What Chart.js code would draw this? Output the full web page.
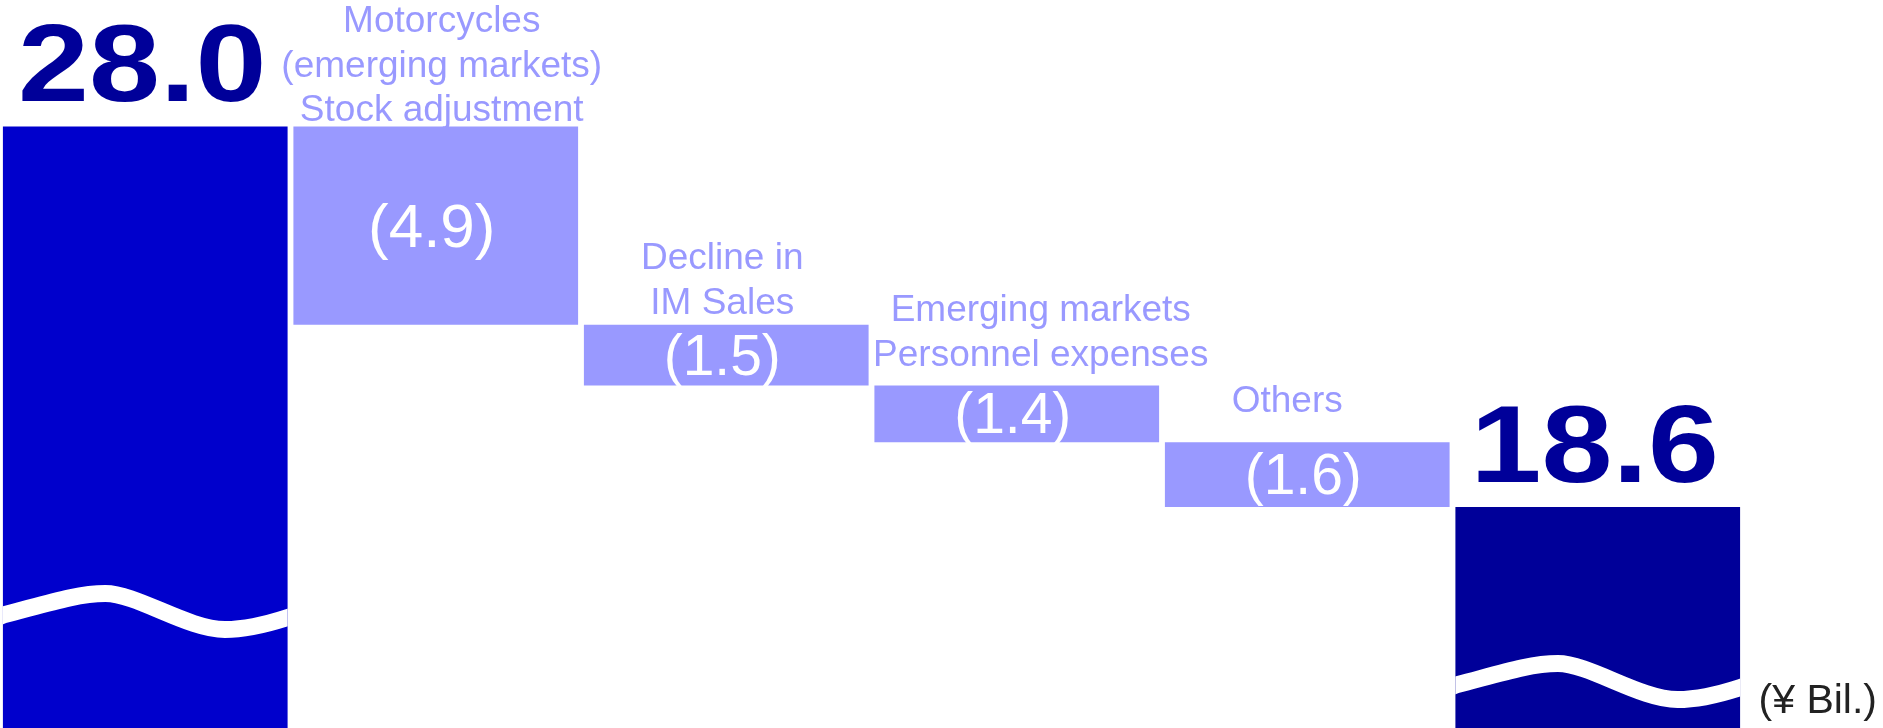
<!DOCTYPE html>
<html>
<head>
<meta charset="utf-8">
<script src="https://cdn.jsdelivr.net/npm/chart.js@4.4.1/dist/chart.umd.min.js"></script>
<style>
    html, body { margin: 0; padding: 0; background: #ffffff; overflow: hidden; }
    canvas { display: block; }
</style>
</head>
<body>
<canvas id="grafico" width="1883" height="728"></canvas>
<script>
// valores (¥ Bil.)
const openTotal = 28.0;
const closeTotal = 18.6;
const stepValues = [-4.9, -1.5, -1.4, -1.6];
const stepLabels = [
    ['Motorcycles', '(emerging markets)', 'Stock adjustment'],
    ['Decline in', 'IM Sales'],
    ['Emerging markets', 'Personnel expenses'],
    ['Others']
];
const categories = ['Start', 'Motorcycles', 'IM Sales', 'Personnel', 'Others', 'End'];
const unitLabel = '(\u00a5 Bil.)';

const barColors = ['#0000cc', '#9999ff', '#9999ff', '#9999ff', '#9999ff', '#000099'];
const FONT = '"Liberation Sans", Arial, sans-serif';

// monta as barras flutuantes do waterfall
function montarBarras() {
    const barras = [[0, openTotal]];
    let nivel = openTotal;
    stepValues.forEach(v => {
        const novo = Math.round((nivel + v) * 10) / 10;
        barras.push([Math.min(nivel, novo), Math.max(nivel, novo)]);
        nivel = novo;
    });
    barras.push([0, closeTotal]);
    return barras;
}

function desenharOnda(ctx, bar, yCentro, bottom) {
    const w = bar.width;
    const L = bar.x - w / 2;
    const R = bar.x + w / 2;
    ctx.save();
    ctx.beginPath();
    ctx.rect(L, bar.y, w, bottom - bar.y);
    ctx.clip();
    ctx.strokeStyle = '#ffffff';
    ctx.lineWidth = 17;
    ctx.beginPath();
    ctx.moveTo(L - 12, yCentro + 5);
    ctx.lineTo(L, yCentro);
    ctx.bezierCurveTo(L + 0.15 * w, yCentro - 11, L + 0.26 * w, yCentro - 21.5, L + 0.36 * w, yCentro - 21.5);
    ctx.bezierCurveTo(L + 0.47 * w, yCentro - 21.5, L + 0.65 * w, yCentro + 14.5, L + 0.78 * w, yCentro + 14.5);
    ctx.bezierCurveTo(L + 0.86 * w, yCentro + 14.5, L + 0.93 * w, yCentro + 9, R, yCentro + 2.5);
    ctx.lineTo(R + 12, yCentro - 1.5);
    ctx.stroke();
    ctx.restore();
}

const rotulosPlugin = {
    id: 'rotulos',
    afterDatasetsDraw(chart, args, opts) {
        const ctx = chart.ctx;
        const meta = chart.getDatasetMeta(0);
        const yScale = chart.scales.y;
        const area = chart.chartArea;
        const n = meta.data.length;

        // quebra de eixo (onda) nas barras de total
        Object.keys(opts.breaks).forEach(i => {
            desenharOnda(ctx, meta.data[i], yScale.getPixelForValue(opts.breaks[i]), area.bottom);
        });

        ctx.save();
        ctx.textAlign = 'center';
        ctx.textBaseline = 'alphabetic';

        // totais
        [[0, openTotal], [n - 1, closeTotal]].forEach(([i, v]) => {
            const bar = meta.data[i];
            ctx.save();
            ctx.translate(bar.x - 3, bar.y - 25);
            ctx.scale(1.16, 1);
            ctx.fillStyle = '#000099';
            ctx.font = 'bold 110px ' + FONT;
            ctx.fillText(v.toFixed(1), 0, 0);
            ctx.restore();
        });

        // rótulos das variações e valores
        stepValues.forEach((v, k) => {
            const bar = meta.data[k + 1];
            const topo = Math.min(bar.y, bar.base);
            const fundo = Math.max(bar.y, bar.base);
            const linhas = stepLabels[k];
            ctx.fillStyle = '#9999ff';
            ctx.font = '37px ' + FONT;
            const base = topo - opts.labelGaps[k];
            const lx = bar.x + opts.labelShifts[k];
            linhas.forEach((t, j) => {
                ctx.fillText(t, lx, base - (linhas.length - 1 - j) * 44.5);
            });

            const tam = (fundo - topo) > 100 ? 62 : 57;
            ctx.fillStyle = '#ffffff';
            ctx.font = tam + 'px ' + FONT;
            ctx.fillText('(' + Math.abs(v).toFixed(1) + ')', bar.x - 4, (topo + fundo) / 2 + tam * 0.716 / 2 - 1);
        });

        // unidade
        ctx.fillStyle = '#222222';
        ctx.font = '41px ' + FONT;
        ctx.textAlign = 'right';
        ctx.fillText(unitLabel, chart.width - 6, area.bottom - 15);
        ctx.restore();
    }
};

const ctx = document.getElementById('grafico').getContext('2d');
new Chart(ctx, {
    type: 'bar',
    data: {
        labels: categories,
        datasets: [{
            data: montarBarras(),
            backgroundColor: barColors,
            borderWidth: 0,
            barPercentage: 1,
            categoryPercentage: 0.98
        }]
    },
    options: {
        responsive: false,
        animation: false,
        layout: { padding: { left: 0, right: 140, top: 0, bottom: 0 } },
        scales: {
            x: { display: false },
            y: { display: false, min: 13.14, max: 31.125 }
        },
        plugins: {
            legend: { display: false },
            tooltip: { enabled: false },
            rotulos: {
                breaks: { 0: 15.93, 5: 14.2 },
                labelGaps: [5, 11, 20, 30],
                labelShifts: [6, -4, 24, -20]
            }
        }
    },
    plugins: [rotulosPlugin]
});
</script>
</body>
</html>
